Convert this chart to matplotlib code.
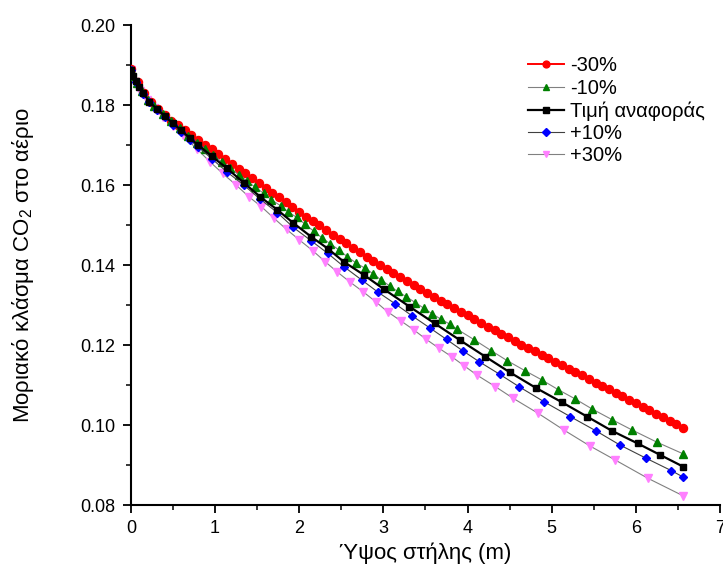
import matplotlib
matplotlib.use('Agg')
import matplotlib.pyplot as plt
from matplotlib.ticker import MultipleLocator, FormatStrFormatter

plt.rcParams['font.family'] = ['Liberation Sans', 'DejaVu Sans']
plt.rcParams['mathtext.fontset'] = 'custom'
plt.rcParams['mathtext.rm'] = 'Liberation Sans'

# -30% : dense solver output
red_x = [0.00, 0.08, 0.16, 0.24, 0.32, 0.40, 0.48, 0.56, 0.64, 0.72, 0.80, 0.88, 0.96, 1.04, 1.12,
         1.20, 1.28, 1.36, 1.44, 1.52, 1.60, 1.68, 1.76, 1.84, 1.92, 2.00, 2.08, 2.16, 2.24, 2.32,
         2.40, 2.48, 2.56, 2.64, 2.72, 2.80, 2.88, 2.96, 3.04, 3.12, 3.20, 3.28, 3.36, 3.44, 3.52,
         3.60, 3.68, 3.76, 3.84, 3.92, 4.00, 4.08, 4.16, 4.24, 4.32, 4.40, 4.48, 4.56, 4.64, 4.72,
         4.80, 4.88, 4.96, 5.04, 5.12, 5.20, 5.28, 5.36, 5.44, 5.52, 5.60, 5.68, 5.76, 5.84, 5.92,
         6.00, 6.08, 6.16, 6.24, 6.32, 6.40, 6.48, 6.56]
red_y = [0.1890, 0.1858, 0.1830, 0.1807, 0.1790, 0.1775, 0.1761, 0.1749, 0.1737, 0.1725, 0.1713,
         0.1701, 0.1689, 0.1677, 0.1665, 0.1653, 0.1641, 0.1629, 0.1617, 0.1605, 0.1593, 0.1581,
         0.1569, 0.1557, 0.1545, 0.1533, 0.1521, 0.1510, 0.1499, 0.1487, 0.1476, 0.1465, 0.1454,
         0.1443, 0.1432, 0.1421, 0.1410, 0.1400, 0.1390, 0.1380, 0.1370, 0.1360, 0.1350, 0.1340,
         0.1330, 0.1321, 0.1311, 0.1302, 0.1292, 0.1283, 0.1274, 0.1264, 0.1255, 0.1246, 0.1237,
         0.1228, 0.1219, 0.1210, 0.1201, 0.1193, 0.1184, 0.1176, 0.1167, 0.1158, 0.1150, 0.1141,
         0.1132, 0.1124, 0.1115, 0.1106, 0.1098, 0.1089, 0.1080, 0.1072, 0.1063, 0.1054, 0.1046,
         0.1037, 0.1028, 0.1020, 0.1011, 0.1002, 0.0993]

# -10%
green_x = [0.00, 0.03, 0.07, 0.13, 0.20, 0.28, 0.38, 0.48, 0.58, 0.68, 0.78, 0.88, 0.98, 1.08,
           1.18, 1.28, 1.38, 1.48, 1.58, 1.67, 1.78, 1.87, 1.97, 2.07, 2.17, 2.27, 2.37, 2.47,
           2.57, 2.67, 2.78, 2.88, 2.97, 3.08, 3.17, 3.27, 3.38, 3.48, 3.58, 3.68, 3.79, 3.88,
           4.08, 4.28, 4.47, 4.68, 4.88, 5.08, 5.28, 5.48, 5.72, 5.95, 6.25, 6.56]
green_y = [0.1888, 0.1872, 0.1855, 0.1834, 0.1813, 0.1797, 0.1778, 0.1760, 0.1742, 0.1723,
           0.1706, 0.1690, 0.1674, 0.1658, 0.1642, 0.1626, 0.1610, 0.1594, 0.1579, 0.1563,
           0.1548, 0.1533, 0.1519, 0.1502, 0.1485, 0.1468, 0.1453, 0.1438, 0.1421, 0.1406,
           0.1392, 0.1378, 0.1363, 0.1347, 0.1334, 0.1321, 0.1306, 0.1292, 0.1278, 0.1265,
           0.1252, 0.1239, 0.1213, 0.1186, 0.1161, 0.1136, 0.1113, 0.1088, 0.1065, 0.1040,
           0.1013, 0.0988, 0.0957, 0.0928]

# reference value
black_x = [0.00, 0.03, 0.06, 0.10, 0.15, 0.22, 0.31, 0.40, 0.50, 0.60, 0.70, 0.80, 0.96, 1.14,
           1.34, 1.54, 1.74, 1.93, 2.14, 2.34, 2.53, 2.77, 3.01, 3.31, 3.61, 3.91, 4.21, 4.50,
           4.81, 5.12, 5.42, 5.71, 6.02, 6.29, 6.56]
black_y = [0.1888, 0.1873, 0.1860, 0.1845, 0.1829, 0.1808, 0.1790, 0.1773, 0.1754, 0.1737,
           0.1717, 0.1700, 0.1672, 0.1642, 0.1606, 0.1570, 0.1538, 0.1505, 0.1471, 0.1441,
           0.1408, 0.1375, 0.1339, 0.1296, 0.1254, 0.1212, 0.1171, 0.1132, 0.1093, 0.1057,
           0.1021, 0.0986, 0.0954, 0.0925, 0.0896]

# +10%
blue_x = [0.00, 0.06, 0.15, 0.22, 0.31, 0.40, 0.50, 0.60, 0.70, 0.80, 0.96, 1.14, 1.34, 1.54,
          1.74, 1.93, 2.14, 2.34, 2.53, 2.74, 2.93, 3.14, 3.34, 3.55, 3.75, 3.94, 4.14, 4.38,
          4.61, 4.91, 5.22, 5.52, 5.81, 6.12, 6.42, 6.56]
blue_y = [0.1888, 0.1858, 0.1828, 0.1807, 0.1788, 0.1770, 0.1751, 0.1733, 0.1713, 0.1695,
          0.1666, 0.1633, 0.1600, 0.1564, 0.1531, 0.1494, 0.1461, 0.1429, 0.1396, 0.1363,
          0.1333, 0.1303, 0.1273, 0.1243, 0.1214, 0.1186, 0.1158, 0.1127, 0.1096, 0.1058,
          0.1021, 0.0986, 0.0950, 0.0917, 0.0886, 0.0870]

# +30%
pink_x = [0.00, 0.05, 0.11, 0.19, 0.28, 0.38, 0.50, 0.62, 0.79, 0.94, 1.09, 1.25, 1.40, 1.55,
          1.70, 1.85, 2.00, 2.16, 2.31, 2.45, 2.60, 2.76, 2.91, 3.05, 3.21, 3.36, 3.51, 3.66,
          3.81, 3.96, 4.11, 4.33, 4.54, 4.84, 5.14, 5.45, 5.75, 6.14, 6.56]
pink_y = [0.1888, 0.1858, 0.1836, 0.1813, 0.1792, 0.1770, 0.1747, 0.1724, 0.1689, 0.1658,
          0.1629, 0.1600, 0.1571, 0.1546, 0.1517, 0.1489, 0.1463, 0.1436, 0.1408, 0.1383,
          0.1358, 0.1333, 0.1308, 0.1283, 0.1260, 0.1238, 0.1214, 0.1192, 0.1171, 0.1148,
          0.1125, 0.1096, 0.1067, 0.1029, 0.0988, 0.0948, 0.0913, 0.0867, 0.0823]

labels = ['-30%', '-10%', 'Τιμή αναφοράς', '+10%', '+30%']

fig = plt.figure(figsize=(7.23, 5.74), dpi=100)
ax = fig.add_axes([0.181, 0.1202, 0.815, 0.8362])

ax.plot(red_x, red_y, color='#ff0000', lw=1.4, marker='o', ms=5.8,
        mec='#ff0000', mfc='#ff0000', label=labels[0], zorder=3)
ax.plot(green_x, green_y, color='#808080', lw=0.8, marker='^', ms=5.5,
        mec='#008000', mfc='#008000', label=labels[1], zorder=4)
ax.plot(black_x, black_y, color='#000000', lw=1.6, marker='s', ms=4.3,
        mec='#000000', mfc='#000000', label=labels[2], zorder=6)
ax.plot(blue_x, blue_y, color='#404040', lw=0.8, marker='D', ms=4.3,
        mec='#0000ff', mfc='#0000ff', label=labels[3], zorder=5)
ax.plot(pink_x, pink_y, color='#808080', lw=0.8, marker='v', ms=5.5,
        mec='#ff80ff', mfc='#ff80ff', label=labels[4], zorder=2)

ax.set_xlim(0, 7)
ax.set_ylim(0.08, 0.20)
ax.xaxis.set_major_locator(MultipleLocator(1))
ax.xaxis.set_minor_locator(MultipleLocator(0.5))
ax.yaxis.set_major_locator(MultipleLocator(0.02))
ax.yaxis.set_minor_locator(MultipleLocator(0.01))
ax.yaxis.set_major_formatter(FormatStrFormatter('%.2f'))

for side in ['top', 'right']:
    ax.spines[side].set_visible(False)
for side in ['left', 'bottom']:
    ax.spines[side].set_linewidth(1.5)

ax.tick_params(which='major', direction='out', length=6, width=1.3, labelsize=13, pad=5)
ax.tick_params(which='minor', direction='out', length=3.5, width=1.1)

ax.set_xlabel('Ύψος στήλης (m)', fontsize=16, labelpad=4)
ax.set_ylabel(r'Μοριακό κλάσμα CO$_\mathregular{2}$ στο αέριο', fontsize=16, labelpad=32)

fig.legend(loc='upper left', bbox_to_anchor=(0.730, 0.902), frameon=False, fontsize=14.5,
           numpoints=1, handlelength=1.8, handletextpad=0.3, labelspacing=0.17,
           markerscale=0.85, borderpad=0, borderaxespad=0)

fig.savefig('out.png', dpi=100)
